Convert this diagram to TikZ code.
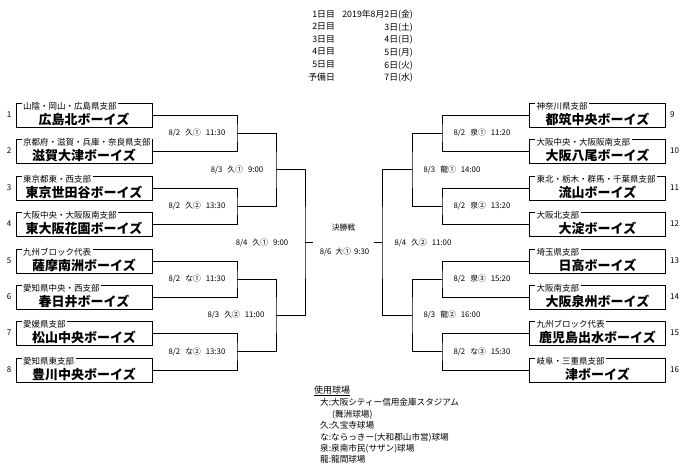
\documentclass[tikz,border=0pt]{standalone}
\usepackage{fontspec}
\setmainfont{Noto Sans CJK JP}
\usetikzlibrary{positioning}
\newcommand{\gsp}{\hspace{5pt}}

\begin{document}
\begin{tikzpicture}[x=1pt, y=-1pt,
  team/.style={draw, line width=1pt, minimum width=136pt, minimum height=24pt, inner sep=0pt, text height=19pt, text depth=1pt, font=\fontsize{13}{13}\selectfont\bfseries},
  league/.style={anchor=west, fill=white, inner xsep=1.5pt, inner ysep=1pt, font=\fontsize{8.5}{9}\selectfont},
  num/.style={inner sep=0pt, font=\fontsize{8}{9}\selectfont},
  game/.style={inner sep=0pt, font=\fontsize{7.8}{9}\selectfont},
  sched/.style={align=right, inner sep=0pt, font=\fontsize{8.8}{12.6}\selectfont},
  bracket/.style={line width=0.8pt}]
\useasboundingbox (0,0) rectangle (680,469);

% Schedule
\node[sched, anchor=north east] (days) at (335,10) {1日目\\2日目\\3日目\\4日目\\5日目\\予備日};
\node[sched, anchor=north east] (dates) at (413,10) {2019年8月2日(金)\\3日(土)\\4日(日)\\5日(月)\\6日(火)\\7日(水)};

% Left teams
\node[team] (t1) at (84,115) {広島北ボーイズ};
\node[league] at ([xshift=6pt,yshift=-4pt]t1.north west) {山陰・岡山・広島県支部};
\node[num, left=4pt of t1] {1};
\node[team] (t2) at (84,151) {滋賀大津ボーイズ};
\node[league] at ([xshift=6pt,yshift=-4pt]t2.north west) {京都府・滋賀・兵庫・奈良県支部};
\node[num, left=4pt of t2] {2};
\node[team] (t3) at (84,188) {東京世田谷ボーイズ};
\node[league] at ([xshift=6pt,yshift=-4pt]t3.north west) {東京都東・西支部};
\node[num, left=4pt of t3] {3};
\node[team] (t4) at (84,224) {東大阪花園ボーイズ};
\node[league] at ([xshift=6pt,yshift=-4pt]t4.north west) {大阪中央・大阪阪南支部};
\node[num, left=4pt of t4] {4};
\node[team] (t5) at (84,261) {薩摩南洲ボーイズ};
\node[league] at ([xshift=6pt,yshift=-4pt]t5.north west) {九州ブロック代表};
\node[num, left=4pt of t5] {5};
\node[team] (t6) at (84,297) {春日井ボーイズ};
\node[league] at ([xshift=6pt,yshift=-4pt]t6.north west) {愛知県中央・西支部};
\node[num, left=4pt of t6] {6};
\node[team] (t7) at (84,333) {松山中央ボーイズ};
\node[league] at ([xshift=6pt,yshift=-4pt]t7.north west) {愛媛県支部};
\node[num, left=4pt of t7] {7};
\node[team] (t8) at (84,370) {豊川中央ボーイズ};
\node[league] at ([xshift=6pt,yshift=-4pt]t8.north west) {愛知県東支部};
\node[num, left=4pt of t8] {8};

% Right teams
\node[team] (t9) at (597.5,115) {都筑中央ボーイズ};
\node[league] at ([xshift=6pt,yshift=-4pt]t9.north west) {神奈川県支部};
\node[num, right=4pt of t9] {9};
\node[team] (t10) at (597.5,151) {大阪八尾ボーイズ};
\node[league] at ([xshift=6pt,yshift=-4pt]t10.north west) {大阪中央・大阪阪南支部};
\node[num, right=4pt of t10] {10};
\node[team] (t11) at (597.5,188) {流山ボーイズ};
\node[league] at ([xshift=6pt,yshift=-4pt]t11.north west) {東北・栃木・群馬・千葉県支部};
\node[num, right=4pt of t11] {11};
\node[team] (t12) at (597.5,224) {大淀ボーイズ};
\node[league] at ([xshift=6pt,yshift=-4pt]t12.north west) {大阪北支部};
\node[num, right=4pt of t12] {12};
\node[team] (t13) at (597.5,261) {日高ボーイズ};
\node[league] at ([xshift=6pt,yshift=-4pt]t13.north west) {埼玉県支部};
\node[num, right=4pt of t13] {13};
\node[team] (t14) at (597.5,297) {大阪泉州ボーイズ};
\node[league] at ([xshift=6pt,yshift=-4pt]t14.north west) {大阪南支部};
\node[num, right=4pt of t14] {14};
\node[team] (t15) at (597.5,333) {鹿児島出水ボーイズ};
\node[league] at ([xshift=6pt,yshift=-4pt]t15.north west) {九州ブロック代表};
\node[num, right=4pt of t15] {15};
\node[team] (t16) at (597.5,370) {津ボーイズ};
\node[league] at ([xshift=6pt,yshift=-4pt]t16.north west) {岐阜・三重県支部};
\node[num, right=4pt of t16] {16};

% Left bracket
\coordinate (m1) at (237,133);
\coordinate (m2) at (237,206);
\coordinate (m3) at (237,279);
\coordinate (m4) at (237,351.5);
\coordinate (q1) at (276,169.5);
\coordinate (q2) at (276,315);
\coordinate (s1) at (305,242.5);
\coordinate (f1) at (313,242.5);
\draw[bracket] (t1.east) -| (m1) |- (t2.east);
\draw[bracket] (t3.east) -| (m2) |- (t4.east);
\draw[bracket] (t5.east) -| (m3) |- (t6.east);
\draw[bracket] (t7.east) -| (m4) |- (t8.east);
\draw[bracket] (m1) -| (q1) |- (m2);
\draw[bracket] (m3) -| (q2) |- (m4);
\draw[bracket] (q1) -| (s1) |- (q2);
\draw[bracket] (s1) -- (f1);

% Right bracket
\coordinate (n1) at (442,133);
\coordinate (n2) at (442,206);
\coordinate (n3) at (442,279);
\coordinate (n4) at (442,351.5);
\coordinate (p1) at (412,169.5);
\coordinate (p2) at (412,315);
\coordinate (s2) at (382,242.5);
\coordinate (f2) at (374,242.5);
\draw[bracket] (t9.west) -| (n1) |- (t10.west);
\draw[bracket] (t11.west) -| (n2) |- (t12.west);
\draw[bracket] (t13.west) -| (n3) |- (t14.west);
\draw[bracket] (t15.west) -| (n4) |- (t16.west);
\draw[bracket] (n1) -| (p1) |- (n2);
\draw[bracket] (n3) -| (p2) |- (n4);
\draw[bracket] (p1) -| (s2) |- (p2);
\draw[bracket] (s2) -- (f2);

% Game labels
\node[game] at (197,133) {8/2\gsp 久①\gsp 11:30};
\node[game] at (197,206) {8/2\gsp 久②\gsp 13:30};
\node[game] at (197,279) {8/2\gsp な①\gsp 11:30};
\node[game] at (197,351.5) {8/2\gsp な②\gsp 13:30};
\node[game] at (237,169.5) {8/3\gsp 久①\gsp 9:00};
\node[game] at (236,315) {8/3\gsp 久②\gsp 11:00};
\node[game] at (262,242.5) {8/4\gsp 久①\gsp 9:00};
\node[game] at (482,133) {8/2\gsp 泉①\gsp 11:20};
\node[game] at (482,206) {8/2\gsp 泉②\gsp 13:20};
\node[game] at (482,279) {8/2\gsp 泉③\gsp 15:20};
\node[game] at (482,351.5) {8/2\gsp な③\gsp 15:30};
\node[game] at (452,169.5) {8/3\gsp 龍①\gsp 14:00};
\node[game] at (452,315) {8/3\gsp 龍②\gsp 16:00};
\node[game] at (423,242.5) {8/4\gsp 久②\gsp 11:00};

% Final
\node[game] (final) at (343.5,228) {決勝戦};
\node[game] at (344.5,252) {8/6\hspace{4pt}大①\hspace{3pt}9:30};

% Venues
\node[anchor=west, inner sep=0pt, font=\fontsize{9}{9}\selectfont] (venue) at (314,391) {\underline{使用球場}};
\node[anchor=north west, align=left, inner sep=0pt, font=\fontsize{8.6}{11.4}\selectfont] (vlist) at (320,398.5) {大:大阪シティー信用金庫スタジアム\\\hspace*{12pt}(舞洲球場)\\久:久宝寺球場\\な:ならっきー(大和郡山市営)球場\\泉:泉南市民(サザン)球場\\龍:龍間球場};
\end{tikzpicture}
\end{document}
